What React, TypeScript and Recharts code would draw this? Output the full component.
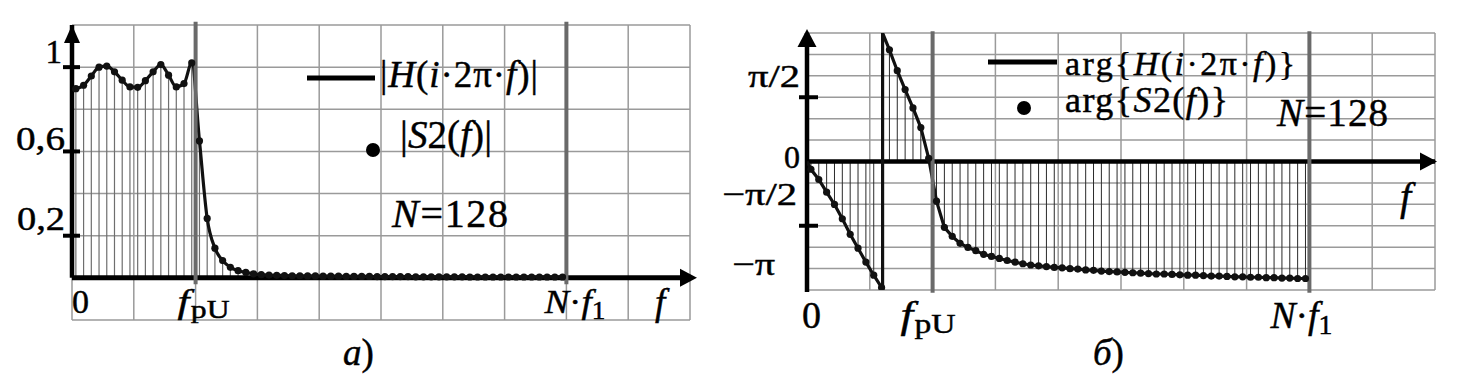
import React from 'react';
import {
  ComposedChart,
  Line,
  Scatter,
  XAxis,
  YAxis,
  CartesianGrid,
  ReferenceLine,
  ReferenceDot,
} from 'recharts';

// ---------- data ----------
// sample bins (centre of each of the 64 bins between 0 and N·f1)
const sampleBins: number[] = Array.from({ length: 64 }, (_, k) => k + 0.5);

// |S2(f)| samples
const magnitude: number[] = [
  0.898, 0.914, 0.958, 1.0, 1.005, 0.978, 0.938, 0.906, 0.904, 0.936,
  0.978, 1.012, 0.962, 0.906, 0.922, 1.02, 0.65, 0.282, 0.141, 0.082,
  0.05, 0.034, 0.026, 0.019, 0.015, 0.013, 0.012, 0.011, 0.01, 0.01,
  0.009, 0.009, 0.008, 0.008, 0.008, 0.007, 0.007, 0.007, 0.007, 0.006,
  0.006, 0.006, 0.006, 0.006, 0.005, 0.005, 0.005, 0.005, 0.005, 0.005,
  0.005, 0.004, 0.004, 0.004, 0.004, 0.004, 0.004, 0.004, 0.004, 0.004,
  0.004, 0.004, 0.004, 0.004,
];
const magnitudeAtZero = 0.895;

// arg{S2(f)} samples (radians)
const phase: number[] = [
  -0.19, -0.44, -0.75, -1.05, -1.4, -1.78, -2.12, -2.46, -2.78, -3.08,
  2.73, 2.22, 1.76, 1.31, 0.83, 0.08, -0.97, -1.61, -1.83, -2.0,
  -2.1, -2.18, -2.27, -2.32, -2.37, -2.42, -2.46, -2.5, -2.53, -2.55,
  -2.57, -2.59, -2.6, -2.62, -2.63, -2.65, -2.66, -2.68, -2.69, -2.7,
  -2.71, -2.72, -2.73, -2.74, -2.75, -2.75, -2.76, -2.77, -2.78, -2.78,
  -2.79, -2.8, -2.8, -2.81, -2.82, -2.82, -2.83, -2.83, -2.84, -2.84,
  -2.85, -2.85, -2.86, -2.86,
];
const phaseWrapAt = 9.63;

// axis marks
const fpU = 16;
const nf1 = 64;
const xMax = 80;
const xGridTicks = [0, 8, 16, 24, 32, 40, 48, 56, 64, 72, 80];
const magGridTicks = [-0.2, 0, 0.2, 0.4, 0.6, 0.8, 1, 1.2];
const magLabelValues = [1, 0.6, 0.2];
const magLabelTexts = ['1', '0,6', '0,2'];
const PI = Math.PI;
const phaseGridTicks = [-6, -5, -4, -3, -2, -1, 0, 1, 2, 3, 4, 5, 6].map((m) => (m * PI) / 6);
const phaseLabelValues = [PI / 2, 0, -PI / 2, -PI];
const phaseLabelTexts = ['π/2', '0', '−π/2', '−π'];
const phaseTickMarks = [PI / 2, -PI / 2];

// tables built from the arrays
const magPoints = sampleBins.map((x, i) => ({ x, y: magnitude[i] }));
const magLine = [{ x: 0, y: magnitudeAtZero }, ...magPoints];
const phasePoints = sampleBins.map((x, i) => ({ x, y: phase[i] }));
const phaseLine = [
  { x: 0, y: 0 },
  ...phasePoints.slice(0, 10),
  { x: phaseWrapAt, y: -PI },
  { x: phaseWrapAt, y: PI },
  ...phasePoints.slice(10),
];

// ---------- styles ----------
const SERIF = "'Liberation Serif', 'Times New Roman', Tinos, serif";
const TXT: React.CSSProperties = { fontFamily: SERIF };
const INK = { fill: '#000', stroke: '#000', strokeWidth: 0.45 };
const GRID = '#9a9a9a';
const GREY_LINE = '#6a6a6a';

const near = (a: number, b: number) => Math.abs(a - b) < 1e-6;

const magLabelStyle = [
  { right: 62, dy: -4, len: 0 },
  { right: 65, dy: -1.5, len: 49 },
  { right: 65, dy: -5.5, len: 48 },
];
const phaseLabelStyle = [
  { right: 800, dy: -10, len: 52 },
  { right: 800, dy: 6.5, len: 0 },
  { right: 797, dy: -21, len: 75 },
  { right: 775, dy: -15, len: 43 },
];

function LeftYTick(props: any) {
  const { y, payload } = props;
  const i = magLabelValues.findIndex((v) => near(v, payload.value));
  if (i < 0) return <g />;
  const s = magLabelStyle[i];
  const stretch = s.len ? { textLength: s.len, lengthAdjust: 'spacingAndGlyphs' } : {};
  return (
    <g>
      <line x1={63} x2={80} y1={y} y2={y} stroke="#000" strokeWidth={4} />
      <text x={s.right} y={y + s.dy} textAnchor="end" style={TXT} fontSize={33} {...INK} {...stretch}>
        {magLabelTexts[i]}
      </text>
    </g>
  );
}

function RightYTick(props: any) {
  const { y, payload } = props;
  const i = phaseLabelValues.findIndex((v) => near(v, payload.value));
  const mark = phaseTickMarks.some((v) => near(v, payload.value));
  if (i < 0 && !mark) return <g />;
  const s = i >= 0 ? phaseLabelStyle[i] : null;
  const stretch = s && s.len ? { textLength: s.len, lengthAdjust: 'spacingAndGlyphs' } : {};
  return (
    <g>
      {mark && <line x1={799} x2={818} y1={y} y2={y} stroke="#000" strokeWidth={4} />}
      {s && (
        <text x={s.right} y={y + s.dy} textAnchor="end" style={TXT} fontSize={32} {...INK} {...stretch}>
          {phaseLabelTexts[i]}
        </text>
      )}
    </g>
  );
}

type XCfg = {
  base: number;
  size: number;
  sub: number;
  fY: number;
  fSize: number;
  dx0: number;
  dxp: number;
  dxn: number;
  dxf: number;
  lenP: number;
  lenN: number;
};

function makeXTick(cfg: XCfg) {
  return function XTick(props: any) {
    const { x, payload } = props;
    const v = payload.value;
    if (near(v, 0)) {
      return (
        <text x={x + cfg.dx0} y={cfg.base} fontSize={cfg.size} style={TXT} {...INK}>
          0
        </text>
      );
    }
    if (near(v, fpU)) {
      return (
        <text
          x={x + cfg.dxp}
          y={cfg.base}
          fontSize={cfg.size}
          style={TXT}
          {...INK}
          textLength={cfg.lenP}
          lengthAdjust="spacingAndGlyphs"
        >
          <tspan fontStyle="italic">f</tspan>
          <tspan fontSize={cfg.sub} dy={5} dx={1}>
            pU
          </tspan>
        </text>
      );
    }
    if (near(v, nf1)) {
      return (
        <text
          x={x + cfg.dxn}
          y={cfg.base}
          fontSize={cfg.size}
          style={TXT}
          {...INK}
          textLength={cfg.lenN}
          lengthAdjust="spacingAndGlyphs"
        >
          <tspan fontStyle="italic">N</tspan>
          <tspan>·</tspan>
          <tspan fontStyle="italic">f</tspan>
          <tspan fontSize={cfg.sub} dy={6}>
            1
          </tspan>
        </text>
      );
    }
    if (near(v, xMax)) {
      // the axis name "f" sits a little before the end of the axis
      return (
        <text x={x + cfg.dxf} y={cfg.fY} fontSize={cfg.fSize} fontStyle="italic" style={TXT} {...INK}>
          f
        </text>
      );
    }
    return <g />;
  };
}

const LeftXTick = makeXTick({
  base: 313, size: 34, sub: 25, fY: 315, fSize: 37, dx0: 0, dxp: -18, dxn: -22, dxf: -35, lenP: 52, lenN: 61,
});
const RightXTick = makeXTick({
  base: 328, size: 38, sub: 28, fY: 210, fSize: 40, dx0: -5, dxp: -32, dxn: -39, dxf: -35, lenP: 55, lenN: 62,
});

const upArrow = (dTip: number, dBase: number, half: number) => (p: any) => (
  <polygon
    points={`${p.cx},${p.cy + dTip} ${p.cx - half},${p.cy + dBase} ${p.cx + half},${p.cy + dBase}`}
    fill="#000"
  />
);
const rightArrow = (dTip: number, dBase: number, half: number) => (p: any) => (
  <polygon
    points={`${p.cx + dTip},${p.cy} ${p.cx + dBase},${p.cy - half} ${p.cx + dBase},${p.cy + half}`}
    fill="#000"
  />
);

const dotShape = (p: any) => <circle cx={p.cx} cy={p.cy} r={3.6} fill="#111" />;

const W = 1467;
const H = 391;

function MagnitudeChart() {
  return (
    <div style={{ position: 'absolute', left: 0, top: 0 }}>
      <ComposedChart width={W} height={H} margin={{ top: 25, right: W - 690, bottom: H - 320 - 1, left: 71 }}>
        <CartesianGrid stroke={GRID} strokeWidth={1.5} />
        <XAxis
          type="number"
          dataKey="x"
          domain={[0, xMax]}
          ticks={xGridTicks}
          interval={0}
          allowDataOverflow
          height={1}
          tick={<LeftXTick />}
          axisLine={false}
          tickLine={false}
        />
        <YAxis
          type="number"
          domain={[-0.2, 1.2]}
          ticks={magGridTicks}
          interval={0}
          allowDataOverflow
          width={1}
          tick={<LeftYTick />}
          axisLine={false}
          tickLine={false}
        />
        {magPoints.map((p) => (
          <ReferenceLine
            key={'s' + p.x}
            segment={[
              { x: p.x, y: 0 },
              { x: p.x, y: p.y },
            ]}
            stroke="#6e6e6e"
            strokeWidth={1.2}
          />
        ))}
        <ReferenceLine
          segment={[
            { x: 0, y: 0 },
            { x: xMax, y: 0 },
          ]}
          stroke="#000"
          strokeWidth={5}
          ifOverflow="visible"
        />
        <ReferenceLine
          segment={[
            { x: 0, y: 0 },
            { x: 0, y: 1.2 },
          ]}
          stroke="#000"
          strokeWidth={4.5}
          ifOverflow="visible"
        />
        <ReferenceDot x={0} y={1.2} ifOverflow="visible" shape={upArrow(0, 18, 8)} />
        <ReferenceDot x={xMax} y={0} ifOverflow="visible" shape={rightArrow(7, -10, 9)} />
        <Line
          data={magLine}
          dataKey="y"
          type="monotone"
          stroke="#111"
          strokeWidth={3.2}
          dot={false}
          activeDot={false}
          isAnimationActive={false}
        />
        <Scatter data={magPoints} dataKey="y" shape={dotShape} isAnimationActive={false} />
        {[fpU, nf1].map((v) => (
          <ReferenceLine
            key={'g' + v}
            segment={[
              { x: v, y: -0.03 },
              { x: v, y: 1.215 },
            ]}
            stroke={GREY_LINE}
            strokeWidth={4}
            ifOverflow="visible"
          />
        ))}
      </ComposedChart>
    </div>
  );
}

function PhaseChart() {
  return (
    <div style={{ position: 'absolute', left: 0, top: 0 }}>
      <ComposedChart width={W} height={H} margin={{ top: 33, right: W - 1435, bottom: H - 290 - 1, left: 806 }}>
        <CartesianGrid stroke={GRID} strokeWidth={1.5} />
        <XAxis
          type="number"
          dataKey="x"
          domain={[0, xMax]}
          ticks={xGridTicks}
          interval={0}
          allowDataOverflow
          height={1}
          tick={<RightXTick />}
          axisLine={false}
          tickLine={false}
        />
        <YAxis
          type="number"
          domain={[-PI, PI]}
          ticks={phaseGridTicks}
          interval={0}
          allowDataOverflow
          width={1}
          tick={<RightYTick />}
          axisLine={false}
          tickLine={false}
        />
        {phasePoints.map((p) => (
          <ReferenceLine
            key={'s' + p.x}
            segment={[
              { x: p.x, y: 0 },
              { x: p.x, y: p.y },
            ]}
            stroke="#2a2a2a"
            strokeWidth={1}
          />
        ))}
        <ReferenceLine
          segment={[
            { x: 0, y: 0 },
            { x: xMax, y: 0 },
          ]}
          stroke="#000"
          strokeWidth={4.5}
          ifOverflow="visible"
        />
        <ReferenceLine
          segment={[
            { x: 0, y: -PI - 0.05 },
            { x: 0, y: PI },
          ]}
          stroke="#000"
          strokeWidth={4.5}
          ifOverflow="visible"
        />
        <ReferenceDot x={0} y={PI} ifOverflow="visible" shape={upArrow(-4, 14, 9.5)} />
        <ReferenceDot x={xMax} y={0} ifOverflow="visible" shape={rightArrow(2, -15, 9)} />
        <Line
          data={phaseLine}
          dataKey="y"
          type="linear"
          stroke="#111"
          strokeWidth={3.2}
          dot={false}
          activeDot={false}
          isAnimationActive={false}
        />
        <Scatter data={phasePoints} dataKey="y" shape={dotShape} isAnimationActive={false} />
        {[fpU, nf1].map((v) => (
          <ReferenceLine
            key={'g' + v}
            segment={[
              { x: v, y: -PI - 0.07 },
              { x: v, y: PI + 0.04 },
            ]}
            stroke={GREY_LINE}
            strokeWidth={4}
            ifOverflow="visible"
          />
        ))}
      </ComposedChart>
    </div>
  );
}

function Annotations() {
  const t = { style: TXT, ...INK };
  return (
    <svg width={W} height={H} style={{ position: 'absolute', left: 0, top: 0, pointerEvents: 'none' }}>
      {/* left legend */}
      <line x1={307} x2={375} y1={78} y2={78} stroke="#000" strokeWidth={5} />
      <text x={380} y={87} fontSize={37} textLength={158} {...t}>
        <tspan>|</tspan>
        <tspan fontStyle="italic">H</tspan>
        <tspan>(</tspan>
        <tspan fontStyle="italic">i</tspan>
        <tspan>·2π·</tspan>
        <tspan fontStyle="italic">f</tspan>
        <tspan>)|</tspan>
      </text>
      <circle cx={373} cy={150} r={7} fill="#000" />
      <text x={400} y={148} fontSize={39} textLength={92} {...t}>
        <tspan>|</tspan>
        <tspan fontStyle="italic">S</tspan>
        <tspan>2(</tspan>
        <tspan fontStyle="italic">f</tspan>
        <tspan>)|</tspan>
      </text>
      <text x={392} y={227} fontSize={40} textLength={116} {...t}>
        <tspan fontStyle="italic">N</tspan>
        <tspan>=128</tspan>
      </text>
      <text x={343} y={365} fontSize={37} {...t}>
        <tspan fontStyle="italic">a</tspan>
        <tspan>)</tspan>
      </text>

      {/* right legend */}
      <line x1={988} x2={1057} y1={62} y2={62} stroke="#000" strokeWidth={5} />
      <text x={1065} y={75} fontSize={34} textLength={230} {...t}>
        <tspan>arg{'{'}</tspan>
        <tspan fontStyle="italic">H</tspan>
        <tspan>(</tspan>
        <tspan fontStyle="italic">i</tspan>
        <tspan>·2π·</tspan>
        <tspan fontStyle="italic">f</tspan>
        <tspan>){'}'}</tspan>
      </text>
      <circle cx={1024} cy={108} r={7} fill="#000" />
      <text x={1065} y={112} fontSize={36} textLength={163} {...t}>
        <tspan>arg{'{'}</tspan>
        <tspan fontStyle="italic">S</tspan>
        <tspan>2(</tspan>
        <tspan fontStyle="italic">f</tspan>
        <tspan>){'}'}</tspan>
      </text>
      <text x={1277} y={126} fontSize={39} textLength={111} {...t}>
        <tspan fontStyle="italic">N</tspan>
        <tspan>=128</tspan>
      </text>
      <text x={1093} y={365} fontSize={37} {...t}>
        <tspan fontStyle="italic">б</tspan>
        <tspan>)</tspan>
      </text>
    </svg>
  );
}

export default function App() {
  return (
    <div
      style={{
        position: 'absolute',
        left: 0,
        top: 0,
        width: W,
        height: H,
        background: '#fff',
        overflow: 'hidden',
      }}
    >
      <MagnitudeChart />
      <PhaseChart />
      <Annotations />
    </div>
  );
}
